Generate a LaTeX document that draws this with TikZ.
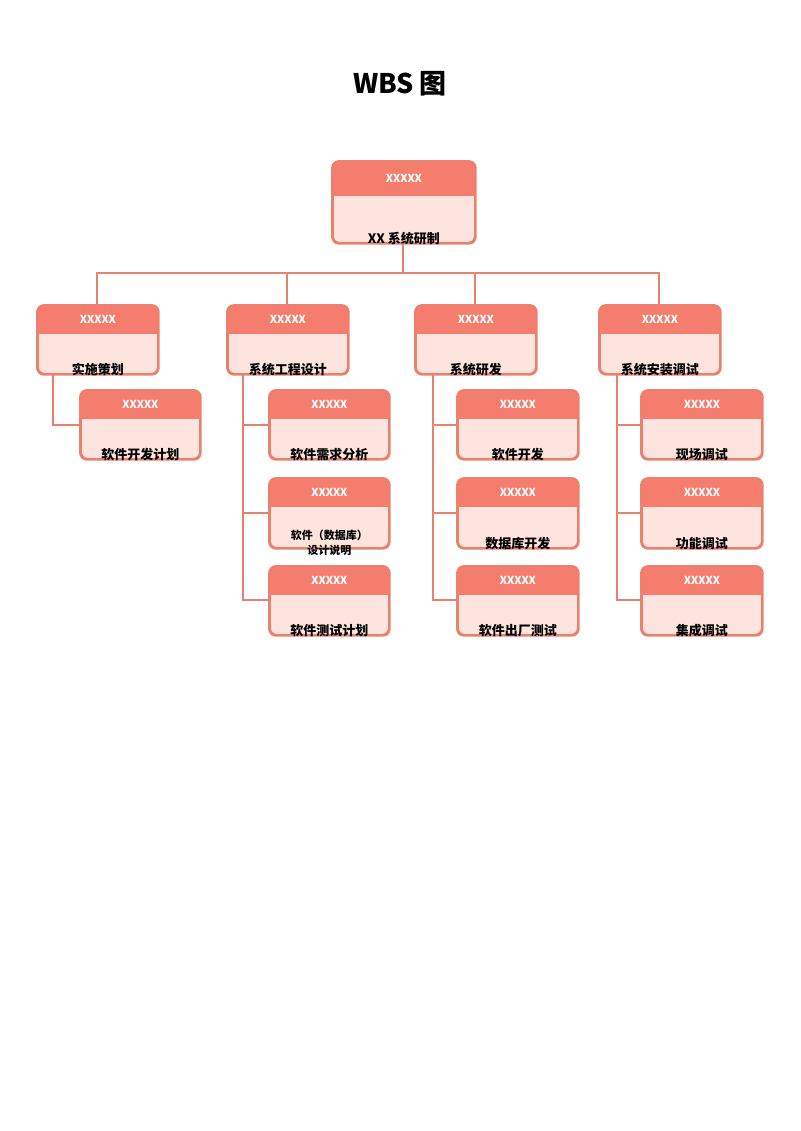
\documentclass[tikz,border=0pt]{standalone}
\usepackage{fontspec}
\setmainfont{Noto Sans CJK SC}
\usetikzlibrary{positioning}
\definecolor{headred}{HTML}{F47D6D}
\definecolor{bodypink}{HTML}{FDE4DF}
\definecolor{edgered}{HTML}{E9816F}
\tikzset{
  box/.style={draw=edgered, line width=1.8pt, fill=bodypink, rounded corners=7pt, inner sep=0pt},
  headtext/.style={text=white, font=\bfseries\fontsize{11}{13}\selectfont},
  bodytext/.style={text=black, font=\bfseries\fontsize{13}{15}\selectfont, align=center},
  link/.style={draw=edgered, line width=1.8pt},
}
% name, left x, top y, width, height, header height, label
\newcommand{\wbsbox}[7]{%
  \node[box, minimum width=#4pt, minimum height=#5pt, anchor=north west] (#1) at (#2pt,-#3pt) {};
  \begin{scope}
    \clip[rounded corners=7pt] (#1.north west) rectangle (#1.south east);
    \fill[headred] (#1.north west) rectangle ([yshift=-#6pt]#1.north east);
  \end{scope}
  \draw[draw=edgered, line width=1.8pt, rounded corners=7pt] (#1.north west) rectangle (#1.south east);
  \node[headtext] (#1-h) at ([yshift=-#6pt/2]#1.north) {XXXXX};
  \coordinate (#1-m) at ([yshift=-#6pt/2]#1.south);
  \path (#1-m) ++(0,#5pt/2-#6pt/2) node[bodytext] (#1-t) {#7};
}
\begin{document}
\begin{tikzpicture}[x=1pt,y=1pt]
  \useasboundingbox (0,0) rectangle (800,-1131);
  \node[font=\bfseries\fontsize{27}{30}\selectfont] (title) at (400,-84) {WBS 图};

  % connectors
  \coordinate (bus) at (403,-273);
  \draw[link] (403,-242) -- (bus);
  \draw[link] (97,-305) |- (659,-273) -- (659,-305);
  \draw[link] (287,-273) -- (287,-305);
  \draw[link] (475,-273) -- (475,-305);
  \draw[link] (53,-373) |- (80,-425);
  \draw[link] (243,-373) |- (269,-600);
  \draw[link] (243,-425) -- (269,-425);
  \draw[link] (243,-513) -- (269,-513);
  \draw[link] (433,-373) |- (457,-600);
  \draw[link] (433,-425) -- (457,-425);
  \draw[link] (433,-513) -- (457,-513);
  \draw[link] (617,-373) |- (641,-600);
  \draw[link] (617,-425) -- (641,-425);
  \draw[link] (617,-513) -- (641,-513);

  % boxes
  \wbsbox{root}{332}{161}{142}{81}{35}{XX 系统研制}
  \wbsbox{plan}{37}{305}{120}{68}{29}{实施策划}
  \wbsbox{design}{227}{305}{120}{68}{29}{系统工程设计}
  \wbsbox{dev}{415}{305}{120}{68}{29}{系统研发}
  \wbsbox{install}{599}{305}{120}{68}{29}{系统安装调试}

  \wbsbox{plana}{80}{390}{119}{68}{29}{软件开发计划}
  \wbsbox{designa}{269}{390}{119}{68}{29}{软件需求分析}
  \wbsbox{designb}{269}{478}{119}{69}{29}{\fontsize{11}{17}\selectfont 软件（数据库）\\\fontsize{11}{17}\selectfont 设计说明}
  \wbsbox{designc}{269}{566}{119}{68}{29}{软件测试计划}
  \wbsbox{deva}{457}{390}{120}{68}{29}{软件开发}
  \wbsbox{devb}{457}{478}{120}{69}{29}{数据库开发}
  \wbsbox{devc}{457}{566}{120}{68}{29}{软件出厂测试}
  \wbsbox{installa}{641}{390}{120}{68}{29}{现场调试}
  \wbsbox{installb}{641}{478}{120}{69}{29}{功能调试}
  \wbsbox{installc}{641}{566}{120}{68}{29}{集成调试}
\end{tikzpicture}
\end{document}
